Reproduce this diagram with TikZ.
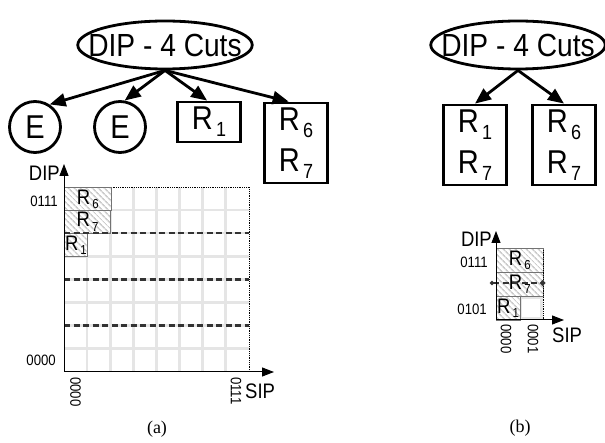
\documentclass[tikz,border=0pt]{standalone}
\usepackage{fontspec}
\setmainfont{Liberation Sans}[FakeStretch=0.88]
\newfontfamily\capfont{Liberation Serif}
\usetikzlibrary{shapes.geometric,arrows.meta,patterns.meta}

% rule name: R with a lowered small index
\newcommand\rsub[1]{R\kern0.1em\raisebox{-0.22em}{\scalebox{0.62}{#1}}}

\begin{document}
\begin{tikzpicture}[x=1pt, y=-1pt,
  dcutroot/.style = {ellipse, draw, line width=2.8pt, inner xsep=-15pt, inner ysep=4pt,
    minimum width=172pt, minimum height=48pt, font=\fontsize{32}{32}\selectfont},
  dcutempty/.style = {circle, draw, line width=2.8pt, minimum size=51pt, inner sep=0pt,
    font=\fontsize{33}{33}\selectfont},
  dcutleaf/.style = {rectangle, draw, line width=2.8pt, minimum width=63pt, inner sep=0pt,
    align=center, font=\fontsize{33}{41}\selectfont},
  dcutarrow/.style = {-{Triangle[length=16pt,width=13pt]}, line width=2.8pt},
  dcutgrid/.style = {gray!20, line width=2.6pt},
  dcutcut/.style = {black!80, line width=2.4pt, dash pattern=on 6pt off 3.5pt},
  dcutrule/.style = {draw=black!55, line width=0.8pt, preaction={fill=white},
    pattern={Lines[angle=-45,distance=4pt,line width=1.6pt]}, pattern color=gray!40,
    anchor=north west, inner sep=0pt, font=\fontsize{21}{21}\selectfont},
  dcutaxis/.style = {-{Triangle[length=12pt,width=9pt]}, line width=1pt},
  dcutlbl/.style = {font=\fontsize{21}{21}\selectfont, inner sep=0pt},
  dcuttick/.style = {font=\fontsize{15}{15}\selectfont, inner sep=0pt},
  dcutfig/.style = {font=\capfont\fontsize{18}{18}\selectfont}
]
  \useasboundingbox (0,0) rectangle (605,443);

  % (a) tree: root cut and its four children
  \node[dcutroot] (rootA) at (165,45) {DIP - 4 Cuts};
  \node[dcutempty] (emptyA) at (35,127) {E};
  \node[dcutempty] (emptyB) at (120,127) {E};
  \node[dcutleaf, minimum height=40pt] (leafA) at (209,122) {\rsub{1}};
  \node[dcutleaf, minimum height=80pt] (leafB) at (296,143) {\rsub{6}\\\rsub{7}};
  \draw[dcutarrow] (rootA.south) -- (emptyA.57);
  \draw[dcutarrow] (rootA.south) -- (emptyB.80);
  \draw[dcutarrow] (rootA.south) -- (leafA.95);
  \draw[dcutarrow] (rootA.south) -- (leafB.100);

  % (a) DIP x SIP plane, 8 x 8 cells
  \foreach \i in {1,...,7} {
    \draw[dcutgrid] ({64+23.1*\i},187) -- ({64+23.1*\i},372);
    \draw[dcutgrid] (64,{187+23.1*\i}) -- (249,{187+23.1*\i});
  }
  \draw[densely dotted, line width=0.8pt] (64,187) -- (249,187) -- (249,372);
  \node[dcutrule, minimum width=46.2pt, minimum height=23.1pt] (sixA) at (64,187) {\rsub{6}};
  \node[dcutrule, minimum width=46.2pt, minimum height=23.1pt] (sevenA) at (64,210.1) {\rsub{7}};
  \node[dcutrule, minimum width=23.1pt, minimum height=23.1pt] (oneA) at (64,233.2) {\rsub{1}};
  \foreach \y in {233.2,279.4,325.6}
    \draw[dcutcut] (64,\y) -- (249,\y);
  \coordinate (originA) at (64,372);
  \coordinate (dipTopA) at (64,164);
  \coordinate (sipEndA) at (274,372);
  \draw[dcutaxis] (originA) -- (dipTopA);
  \draw[dcutaxis] (originA) -- (sipEndA);
  \node[dcutlbl, anchor=base east] (dipA) at (60,181) {DIP};
  \node[dcutlbl, anchor=base west] (sipA) at (245,399) {SIP};
  \node[dcuttick, anchor=base east] (hiA) at (58,207) {0111};
  \node[dcuttick, anchor=base east] (loA) at (56,366) {0000};
  \node[dcuttick, rotate=-90, anchor=west] (sipLoA) at (75.5,377) {0000};
  \node[dcuttick, rotate=-90, anchor=west] (sipHiA) at (236,377) {0111};
  \node[dcutfig] (capA) at (157,429) {(a)};

  % (b) tree after the cut
  \node[dcutroot] (rootB) at (518,45) {DIP - 4 Cuts};
  \node[dcutleaf, minimum height=80pt] (leafC) at (475,145) {\rsub{1}\\\rsub{7}};
  \node[dcutleaf, minimum height=80pt] (leafD) at (564,145) {\rsub{6}\\\rsub{7}};
  \draw[dcutarrow] (rootB.south) -- (leafC.north);
  \draw[dcutarrow] (rootB.south) -- (leafD.north);

  % (b) plane: 2 x 3 cells
  \draw[dcutgrid] (520.8,297.3) rectangle (541.7,318.7);
  \node[dcutrule, minimum width=47pt, minimum height=24pt] (sixB) at (496,248) {\rsub{6}};
  \node[dcutrule, minimum width=47pt, minimum height=24pt] (sevenB) at (496,272) {\rsub{7}};
  \node[dcutrule, minimum width=23.5pt, minimum height=24pt] (oneB) at (496,296) {\rsub{1}};
  \draw[densely dotted, line width=0.8pt] (543,250) -- (543,320);
  \coordinate (cutL) at (490,283);
  \coordinate (cutR) at (545,283);
  \draw[dcutcut, {Circle[length=4pt]}-{Circle[length=5pt]}] (cutL) -- (cutR);
  \coordinate (originB) at (496,320);
  \coordinate (dipTopB) at (496,231);
  \coordinate (sipEndB) at (564,320);
  \draw[dcutaxis] (originB) -- (dipTopB);
  \draw[dcutaxis] (originB) -- (sipEndB);
  \node[dcutlbl, anchor=base east] (dipB) at (492,247) {DIP};
  \node[dcutlbl, anchor=base west] (sipB) at (552,343) {SIP};
  \node[dcuttick, anchor=base east] (hiB) at (488,268) {0111};
  \node[dcuttick, anchor=base east] (midB) at (487,315) {0101};
  \node[dcuttick, rotate=-90, anchor=west] (sipLoB) at (506,324) {0000};
  \node[dcuttick, rotate=-90, anchor=west] (sipHiB) at (533,324) {0001};
  \node[dcutfig] (capB) at (520,428) {(b)};
\end{tikzpicture}
\end{document}
